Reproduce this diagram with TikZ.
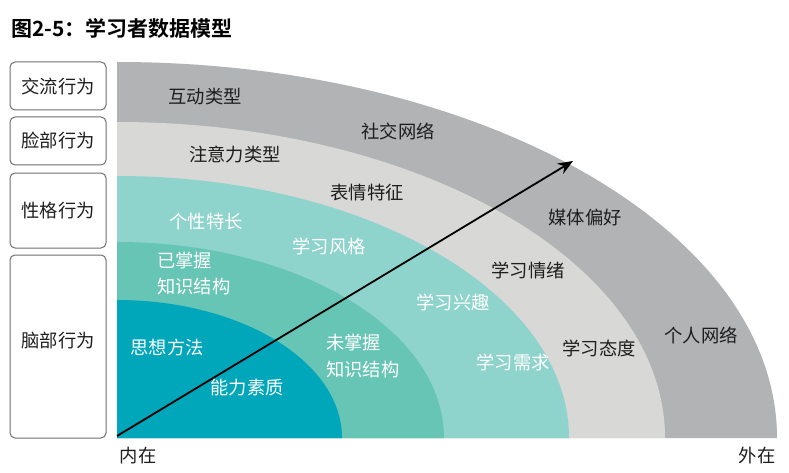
\documentclass[tikz,border=0pt]{standalone}
\usepackage{fontspec}
\usetikzlibrary{arrows.meta}
\newfontfamily\cjk{Noto Sans CJK SC}[BoldFont={Noto Sans CJK SC Bold}]
\definecolor{cGray}{RGB}{177,179,180}
\definecolor{cLight}{RGB}{216,216,215}
\definecolor{cTealA}{RGB}{143,212,204}
\definecolor{cTealB}{RGB}{103,197,181}
\definecolor{cTealC}{RGB}{0,166,185}
\definecolor{cBorder}{RGB}{110,110,115}
\definecolor{cText}{RGB}{30,30,30}
\tikzset{
  lbl/.style={font=\cjk\fontsize{18.3}{21}\selectfont, text=cText, inner sep=0pt},
  wlbl/.style={font=\cjk\fontsize{18.3}{21}\selectfont, text=white, inner sep=0pt},
  sidebox/.style={draw=cBorder, line width=1pt, rounded corners=5pt, fill=white},
  band/.style={draw=none}
}
\begin{document}
\begin{tikzpicture}[x=1pt,y=1pt]
\useasboundingbox (0,0) rectangle (789,472);
% bands (centre at 117,34)
\fill[cGray]  (117,34) -- ++(660,0) arc[start angle=0,end angle=90,x radius=660,y radius=376] -- cycle;
\fill[cLight] (117,34) -- ++(548,0) arc[start angle=0,end angle=90,x radius=548,y radius=316] -- cycle;
\fill[cTealA] (117,34) -- ++(452,0) arc[start angle=0,end angle=90,x radius=452,y radius=262] -- cycle;
\fill[cTealB] (117,34) -- ++(327,0) arc[start angle=0,end angle=90,x radius=327,y radius=196] -- cycle;
\fill[cTealC] (117,34) -- ++(225,0) arc[start angle=0,end angle=90,x radius=225,y radius=138] -- cycle;
% side boxes
\draw[sidebox] (10,362) rectangle (106,410);
\draw[sidebox] (10,307) rectangle (106,355);
\draw[sidebox] (10,224) rectangle (106,299);
\draw[sidebox] (10,34) rectangle (106,217);
\node[lbl] (b1) at (58,386) {交流行为};
\node[lbl] (b2) at (58,331) {脸部行为};
\node[lbl] (b3) at (58,261.5) {性格行为};
\node[lbl] (b4) at (58,131) {脑部行为};
% title
\node[anchor=west, inner sep=0pt, font=\cjk\bfseries\fontsize{21}{25}\selectfont, text=black] (title) at (11,444) {图2-5：学习者数据模型};
% arrow
\coordinate (inner) at (117,36);
\coordinate (outer) at (573,311);
\draw[line width=1.8pt, -{Stealth[length=15pt,width=12pt]}] (inner) -- (outer);
% labels
\node[lbl] (t1) at (205,375) {互动类型};
\node[lbl] (t2) at (398,341) {社交网络};
\node[lbl] (t3) at (235,317) {注意力类型};
\node[lbl] (t4) at (367,279) {表情特征};
\node[wlbl] (t5) at (206,250) {个性特长};
\node[wlbl] (t6) at (329,226) {学习风格};
\node[wlbl, anchor=west] (t7) at (157,211) {已掌握};
\node[wlbl, anchor=west] (t8) at (157,185) {知识结构};
\node[lbl] (t9) at (585,254) {媒体偏好};
\node[lbl] (t10) at (528,202) {学习情绪};
\node[wlbl] (t11) at (453,170) {学习兴趣};
\node[lbl] (t12) at (599,124) {学习态度};
\node[lbl] (t13) at (701,137) {个人网络};
\node[wlbl] (t14) at (513,110) {学习需求};
\node[wlbl] (t15) at (167,124) {思想方法};
\node[wlbl, anchor=west] (t16) at (326,129) {未掌握};
\node[wlbl, anchor=west] (t17) at (326,102) {知识结构};
\node[wlbl] (t18) at (247,84) {能力素质};
\node[lbl] (in) at (138,16) {内在};
\node[lbl] (out) at (757,16) {外在};
\end{tikzpicture}
\end{document}
